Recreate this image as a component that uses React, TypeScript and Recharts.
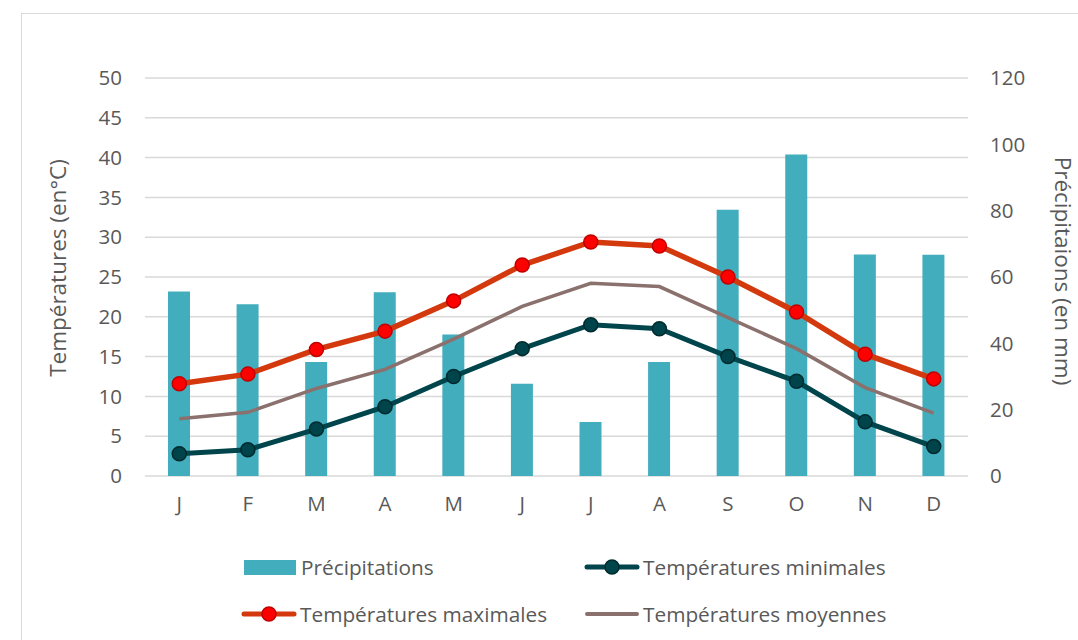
import React from 'react';
import { ComposedChart, Bar, Line, XAxis, YAxis, CartesianGrid } from 'recharts';

const months = ['J', 'F', 'M', 'A', 'M', 'J', 'J', 'A', 'S', 'O', 'N', 'D'];
const precipitations = [55.6, 51.8, 34.4, 55.4, 42.7, 27.8, 16.3, 34.4, 80.3, 96.9, 66.8, 66.7];
const tempMin = [2.8, 3.3, 5.9, 8.7, 12.5, 16.0, 19.0, 18.5, 15.0, 11.9, 6.8, 3.7];
const tempMax = [11.6, 12.8, 15.9, 18.2, 22.0, 26.5, 29.4, 28.9, 25.0, 20.6, 15.3, 12.2];
const tempMoy = [7.2, 8.0, 11.0, 13.4, 17.2, 21.3, 24.2, 23.8, 19.9, 16.0, 11.1, 7.9];

const leftTicks = [0, 5, 10, 15, 20, 25, 30, 35, 40, 45, 50];
const rightTicks = [0, 20, 40, 60, 80, 100, 120];

const data = months.map((m, i) => ({
  month: m,
  key: i,
  precip: precipitations[i],
  min: tempMin[i],
  max: tempMax[i],
  moy: tempMoy[i],
}));

const FONT = '"Open Sans", "Liberation Sans", sans-serif';
const TEXT = '#595959';

const BAR_COLOR = '#42ADBD';
const MAX_COLOR = '#D4380D';
const MIN_COLOR = '#00454C';
const MOY_COLOR = '#8A716D';

// small legend icons, drawn like the Excel ones
const LineIcon = ({ color, dot, dotStroke }: { color: string; dot?: string; dotStroke?: string }) => (
  <svg width={56} height={20} style={{ display: 'block' }}>
    <line x1={3} y1={10} x2={53} y2={10} stroke={color} strokeWidth={dot ? 5 : 4} strokeLinecap="round" />
    {dot && <circle cx={28} cy={10} r={7} fill={dot} stroke={dotStroke} strokeWidth={1.5} />}
  </svg>
);

const legendItems = [
  { label: 'Précipitations', left: 242, top: 555, icon: <div style={{ width: 52, height: 15, background: BAR_COLOR, margin: '0 2px' }} /> },
  { label: 'Températures minimales', left: 584, top: 555, icon: <LineIcon color={MIN_COLOR} dot="#00444B" dotStroke="#002A2E" /> },
  { label: 'Températures maximales', left: 241, top: 602, icon: <LineIcon color={MAX_COLOR} dot="#FF0000" dotStroke="#C00000" /> },
  { label: 'Températures moyennes', left: 584, top: 602, icon: <LineIcon color={MOY_COLOR} /> },
];

const tickStyle = { fill: TEXT, fontSize: 20.5, fontFamily: FONT };

export default function App() {
  return (
    <div style={{ position: 'absolute', left: 0, top: 0, width: 1078, height: 640, overflow: 'hidden', background: '#fff', fontFamily: FONT }}>
      <div style={{ position: 'absolute', left: 21, top: 13, width: 1100, height: 700, border: '1px solid #D9D9D9' }} />
      <div style={{ position: 'absolute', left: 0, top: 0 }}>
        <ComposedChart
          width={1078}
          height={540}
          data={data}
          margin={{ top: 78, right: 0, bottom: 0, left: 0 }}
          barCategoryGap={0}
        >
          <CartesianGrid yAxisId="left" vertical={false} stroke="#D9D9D9" strokeWidth={1.5} />
          <XAxis
            dataKey="key"
            tickFormatter={(i: number) => months[i]}
            height={64}
            axisLine={false}
            tickLine={false}
            tickSize={0}
            tickMargin={20}
            tick={tickStyle}
            interval={0}
          />
          <YAxis
            yAxisId="left"
            orientation="left"
            width={145}
            domain={[0, 50]}
            ticks={leftTicks}
            axisLine={false}
            tickLine={false}
            tickSize={0}
            tickMargin={23}
            tick={tickStyle}
            label={{
              content: () => (
                <text
                  x={57}
                  y={268}
                  transform="rotate(-90 57 268)"
                  textAnchor="middle"
                  dominantBaseline="central"
                  fill={TEXT}
                  fontSize={22.5}
                  fontFamily={FONT}
                >
                  Températures (en°C)
                </text>
              ),
            }}
          />
          <YAxis
            yAxisId="right"
            orientation="right"
            width={110}
            domain={[0, 120]}
            ticks={rightTicks}
            axisLine={false}
            tickLine={false}
            tickSize={0}
            tickMargin={22}
            tick={tickStyle}
            label={{
              content: () => (
                <text
                  x={1063}
                  y={271}
                  transform="rotate(90 1063 271)"
                  textAnchor="middle"
                  dominantBaseline="central"
                  fill={TEXT}
                  fontSize={22.5}
                  fontFamily={FONT}
                >
                  Précipitaions (en mm)
                </text>
              ),
            }}
          />
          <Bar yAxisId="right" dataKey="precip" fill={BAR_COLOR} barSize={22} isAnimationActive={false} />
          <Line
            yAxisId="left"
            type="linear"
            dataKey="moy"
            stroke={MOY_COLOR}
            strokeWidth={3.5}
            dot={false}
            isAnimationActive={false}
          />
          <Line
            yAxisId="left"
            type="linear"
            dataKey="min"
            stroke={MIN_COLOR}
            strokeWidth={5}
            dot={{ r: 7, fill: '#00444B', stroke: '#002A2E', strokeWidth: 1.5 }}
            isAnimationActive={false}
          />
          <Line
            yAxisId="left"
            type="linear"
            dataKey="max"
            stroke={MAX_COLOR}
            strokeWidth={5.5}
            dot={{ r: 7, fill: '#FF0000', stroke: '#C00000', strokeWidth: 1.5 }}
            isAnimationActive={false}
          />
        </ComposedChart>
      </div>
      {legendItems.map((it) => (
        <div
          key={it.label}
          style={{ position: 'absolute', left: it.left, top: it.top, height: 24, display: 'flex', alignItems: 'center', gap: 3 }}
        >
          {it.icon}
          <span style={{ color: TEXT, fontSize: 20.8, lineHeight: '24px', whiteSpace: 'nowrap' }}>{it.label}</span>
        </div>
      ))}
    </div>
  );
}
